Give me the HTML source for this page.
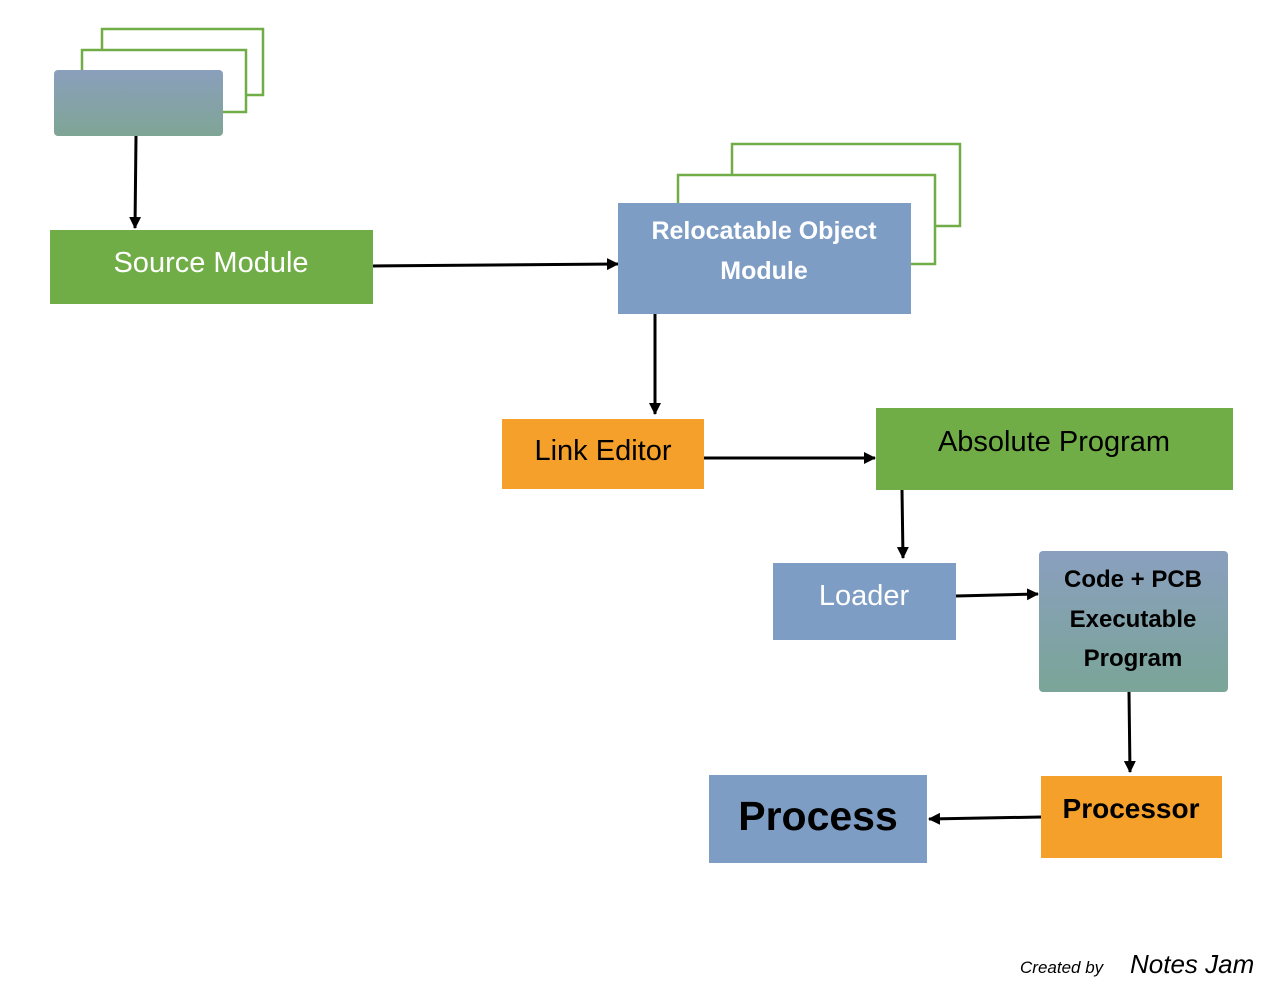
<!DOCTYPE html>
<html><head><meta charset="utf-8"><style>
html,body{margin:0;padding:0;background:#fff;}
svg{display:block;}
text{font-family:"Liberation Sans",sans-serif;}
</style></head><body>
<svg width="1286" height="991" viewBox="0 0 1286 991" xmlns="http://www.w3.org/2000/svg">
<defs>
<linearGradient id="gb" x1="0" y1="0" x2="0" y2="1">
<stop offset="0" stop-color="#8a9fbc"/><stop offset="1" stop-color="#7fa595"/></linearGradient>
<linearGradient id="gb2" x1="0" y1="0" x2="0" y2="1">
<stop offset="0" stop-color="#8a9fbf"/><stop offset="1" stop-color="#7aa597"/></linearGradient>
<marker id="ah" markerWidth="12" markerHeight="12" refX="11" refY="6" orient="auto" markerUnits="userSpaceOnUse">
<path d="M0,0 L12,6 L0,12 z" fill="#000"/></marker>
</defs>
<rect x="102" y="29" width="161" height="66" fill="#fff" stroke="#70ad47" stroke-width="2.5"/>
<rect x="82" y="50" width="164" height="62" fill="#fff" stroke="#70ad47" stroke-width="2.5"/>
<rect x="54" y="70" width="169" height="66" rx="4" fill="url(#gb)"/>
<line x1="136" y1="136" x2="135" y2="228" stroke="#000" stroke-width="3" marker-end="url(#ah)"/>
<rect x="50" y="230" width="323" height="74" fill="#70ad47"/>
<text x="211" y="272" font-size="29" fill="#fff" text-anchor="middle">Source Module</text>
<line x1="373" y1="266" x2="618" y2="264" stroke="#000" stroke-width="3" marker-end="url(#ah)"/>
<rect x="732" y="144" width="228" height="82" fill="#fff" stroke="#70ad47" stroke-width="2.5"/>
<rect x="678" y="175" width="257" height="89" fill="#fff" stroke="#70ad47" stroke-width="2.5"/>
<rect x="618" y="203" width="293" height="111" fill="#7e9dc4"/>
<text x="764" y="239" font-size="25" font-weight="bold" fill="#fff" text-anchor="middle">Relocatable Object</text>
<text x="764" y="279" font-size="25" font-weight="bold" fill="#fff" text-anchor="middle">Module</text>
<line x1="655" y1="314" x2="655" y2="414" stroke="#000" stroke-width="3" marker-end="url(#ah)"/>
<rect x="502" y="419" width="202" height="70" fill="#f4a02a"/>
<text x="603" y="460" font-size="29" fill="#000" text-anchor="middle">Link Editor</text>
<line x1="704" y1="458" x2="875" y2="458" stroke="#000" stroke-width="3" marker-end="url(#ah)"/>
<rect x="876" y="408" width="357" height="82" fill="#70ad47"/>
<text x="1054" y="451" font-size="29" fill="#000" text-anchor="middle">Absolute Program</text>
<line x1="902" y1="490" x2="903" y2="558" stroke="#000" stroke-width="3" marker-end="url(#ah)"/>
<rect x="773" y="563" width="183" height="77" fill="#7e9dc4"/>
<text x="864" y="605" font-size="29" fill="#fff" text-anchor="middle">Loader</text>
<line x1="956" y1="596" x2="1038" y2="594" stroke="#000" stroke-width="3" marker-end="url(#ah)"/>
<rect x="1039" y="551" width="189" height="141" rx="4" fill="url(#gb2)"/>
<text x="1133" y="587" font-size="24" font-weight="bold" fill="#000" text-anchor="middle">Code + PCB</text>
<text x="1133" y="627" font-size="24" font-weight="bold" fill="#000" text-anchor="middle">Executable</text>
<text x="1133" y="666" font-size="24" font-weight="bold" fill="#000" text-anchor="middle">Program</text>
<line x1="1129" y1="692" x2="1130" y2="772" stroke="#000" stroke-width="3" marker-end="url(#ah)"/>
<rect x="1041" y="776" width="181" height="82" fill="#f4a02a"/>
<text x="1131" y="818" font-size="28" font-weight="bold" fill="#000" text-anchor="middle">Processor</text>
<line x1="1041" y1="817" x2="929" y2="819" stroke="#000" stroke-width="3" marker-end="url(#ah)"/>
<rect x="709" y="775" width="218" height="88" fill="#7e9dc4"/>
<text x="818" y="830" font-size="41" font-weight="bold" fill="#000" text-anchor="middle">Process</text>
<text x="1020" y="973" font-size="17" font-style="italic" fill="#000">Created by</text>
<text x="1130" y="973" font-size="26" font-style="italic" fill="#000">Notes Jam</text>
</svg>
</body></html>
